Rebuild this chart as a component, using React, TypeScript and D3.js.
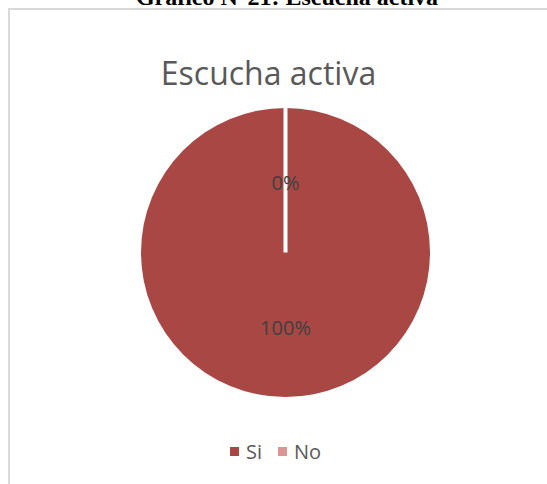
import React from "react";
import * as d3 from "d3";

const categories = ["Si", "No"];
const values = [100, 0];
const colors = ["#A84744", "#D99694"];
const chartTitle = "Escucha activa";
const caption = "Gráfico N°21: Escucha activa";

export default function App() {
  const W = 547;
  const H = 484;
  const cx = 285.5;
  const cy = 252.5;
  const r = 144.5;
  const data = categories.map((c, i) => ({ c, v: values[i] }));
  const pie = d3.pie<any>().value((d) => d.v).sort(null);
  const arcs = pie(data);
  const arc = d3.arc<any>().innerRadius(0).outerRadius(r);
  const total = d3.sum(values);
  const labelPos = [
    [0, 327 - cy],
    [0, 182 - cy],
  ];
  const font = "'Open Sans', sans-serif";
  return (
    <div style={{ position: "absolute", left: 0, top: 0 }}>
      <svg width={W} height={H} style={{ display: "block" }}>
        <rect x={0} y={0} width={W} height={H} fill="#fff" />
        <text
          x={287}
          y={4.5}
          textAnchor="middle"
          fontFamily="'Liberation Serif', 'Times New Roman', serif"
          fontWeight="bold"
          fontSize={24}
          fill="#000"
        >
          {caption}
        </text>
        <rect x={9} y={9} width={W + 20} height={H + 20} fill="#fff" stroke="#d9d9d9" strokeWidth={2} />
        <text x={268.5} y={85} textAnchor="middle" fontFamily={font} fontSize={32} fill="#595959">
          {chartTitle}
        </text>
        <g transform={`translate(${cx},${cy})`}>
          {arcs.map((a, i) => (
            <path
              key={i}
              d={arc(a) || ""}
              fill={colors[i]}
              stroke={a.endAngle - a.startAngle > 6 ? "none" : "#fff"}
              strokeWidth={4}
            />
          ))}
          {arcs.map((a, i) => (
            <text
              key={"l" + i}
              x={labelPos[i][0]}
              y={labelPos[i][1]}
              textAnchor="middle"
              dominantBaseline="central"
              fontFamily={font}
              fontSize={20}
              fill="#404040"
            >
              {Math.round((a.data.v / total) * 100) + "%"}
            </text>
          ))}
        </g>
        <g>
          {categories.map((c, i) => {
            const x0 = i === 0 ? 230 : 278;
            return (
              <g key={c}>
                <rect x={x0} y={447} width={9} height={9} fill={colors[i]} />
                <text x={x0 + 16} y={459} fontFamily={font} fontSize={20} fill="#595959">
                  {c}
                </text>
              </g>
            );
          })}
        </g>
      </svg>
    </div>
  );
}
